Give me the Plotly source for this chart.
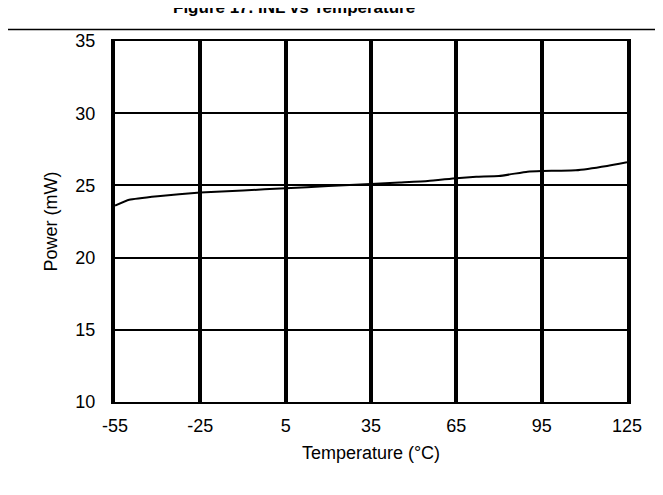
import plotly.graph_objects as go

# readings
temp_c = [-55, -50, -40, -25, -10, 5, 20, 35, 45, 55, 65, 72, 80, 90, 95, 107, 118, 125]
power_mw = [23.6, 24.0, 24.25, 24.5, 24.65, 24.8, 24.95, 25.1, 25.2, 25.3,
            25.5, 25.6, 25.65, 25.95, 26.0, 26.05, 26.35, 26.6]

x_ticks = [-55, -25, 5, 35, 65, 95, 125]
y_ticks = [10, 15, 20, 25, 30, 35]

FONT = 'Liberation Sans, Arial, sans-serif'

fig = go.Figure()
fig.add_trace(go.Scatter(x=temp_c, y=power_mw, mode='lines', line_shape='spline',
                         line=dict(color='black', width=2, smoothing=0.4), showlegend=False))

fig.update_layout(
    width=663, height=495,
    margin=dict(l=107, r=44, t=33, b=101),
    plot_bgcolor='white', paper_bgcolor='white',
    font=dict(family=FONT, size=18, color='black'),
)

fig.update_xaxes(
    range=[-55, 125], tickvals=x_ticks, ticktext=[str(v) for v in x_ticks],
    showgrid=True, gridcolor='black', gridwidth=4,
    showline=True, linecolor='black', linewidth=2, mirror=True,
    zeroline=False, ticks='', ticklabelstandoff=6,
    title=dict(text='Temperature (°C)', font=dict(size=18), standoff=12),
)
fig.update_yaxes(
    range=[10, 35], tickvals=y_ticks,
    showgrid=True, gridcolor='black', gridwidth=2,
    showline=True, linecolor='black', linewidth=4, mirror=True,
    zeroline=False, ticks='', ticklabelstandoff=12,
    title=dict(text='Power (mW)', font=dict(size=18), standoff=14),
)

# page rule and the clipped figure caption above the plot
fig.add_shape(type='line', xref='paper', yref='paper', x0=-0.3, x1=1.2,
              y0=1 + 11.5 / 361, y1=1 + 11.5 / 361, line=dict(color='black', width=1.5))
fig.add_annotation(text='<b>Figure 17. INL vs Temperature</b>', xref='paper', yref='paper',
                   x=(286 - 107) / 512, y=1 + 22 / 361, xanchor='center', yanchor='bottom',
                   showarrow=False, font=dict(size=17, family=FONT))

fig.write_html('out.html')
